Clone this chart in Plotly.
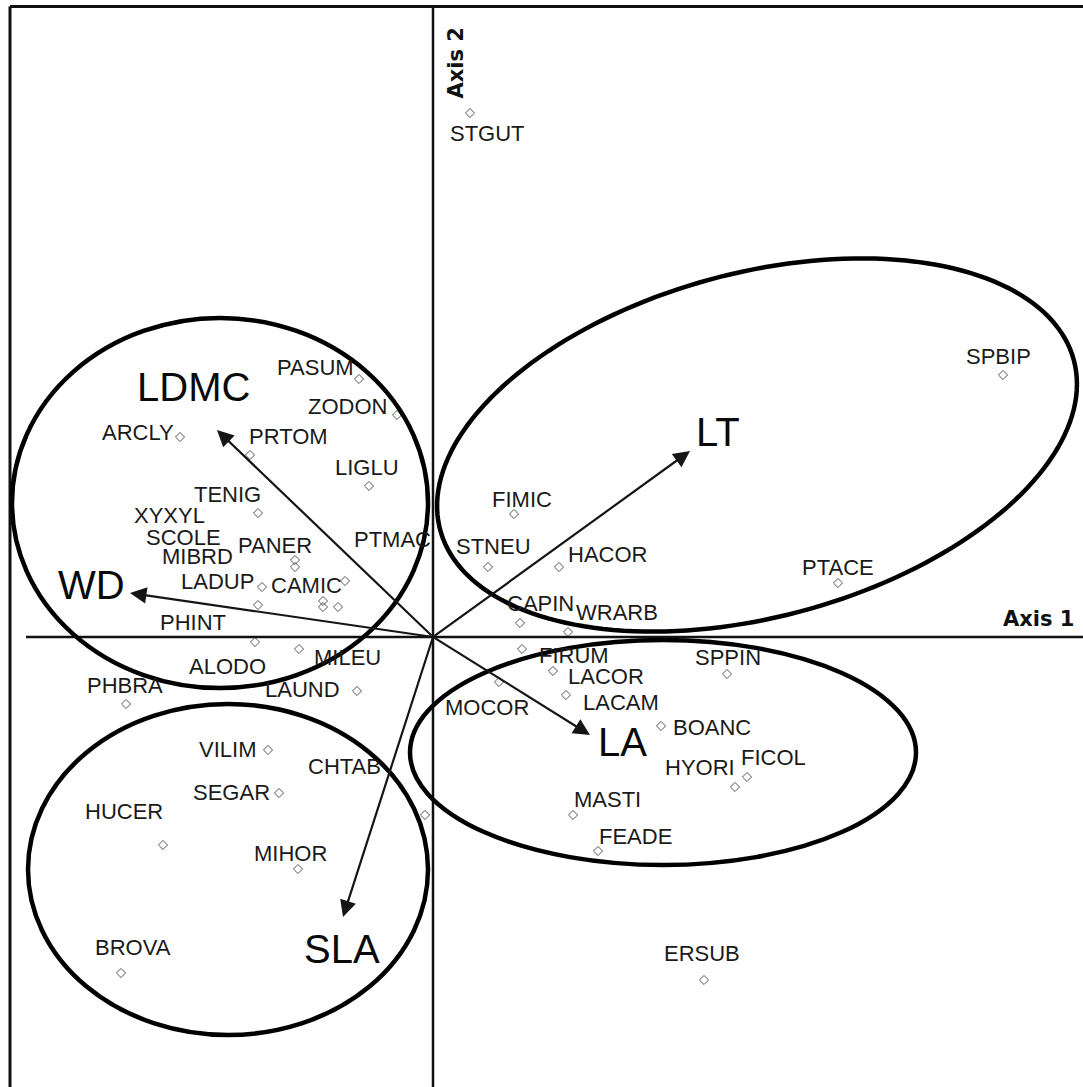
import numpy as np
import plotly.graph_objects as go

# ---------------- data (ordination scores, axis units) ----------------
species = ["STGUT", "PASUM", "ZODON", "ARCLY", "PRTOM", "LIGLU", "TENIG", "PANER",
           "MIBRD", "LADUP", "CAMIC", "SCOLE", "XYXYL", "PTMAC", "PHINT", "ALODO",
           "MILEU", "PHBRA", "LAUND", "VILIM", "CHTAB", "SEGAR", "HUCER", "MIHOR",
           "BROVA", "SPBIP", "FIMIC", "STNEU", "HACOR", "PTACE", "CAPIN", "WRARB",
           "FIRUM", "LACOR", "LACAM", "SPPIN", "MOCOR", "BOANC", "HYORI", "FICOL",
           "MASTI", "FEADE", "ERSUB"]
axis1 = [0.37, -0.74, -0.36, -2.53, -1.83, -0.64, -1.75, -1.38,
         -1.38, -1.71, -0.88, -1.10, -1.10, -0.95, -1.75, -1.78,
         -1.34, -3.07, -0.76, -1.65, -0.08, -1.54, -2.70, -1.35,
         -3.12, 5.70, 0.81, 0.55, 1.26, 4.05, 0.87, 1.35,
         0.89, 1.20, 1.33, 2.94, 0.66, 2.28, 3.02, 3.14,
         1.40, 1.65, 2.71]
axis2 = [5.24, 2.58, 2.22, 2.00, 1.82, 1.51, 1.24, 0.77,
         0.70, 0.50, 0.56, 0.36, 0.30, 0.30, 0.32, -0.05,
         -0.12, -0.67, -0.54, -1.13, -1.78, -1.56, -2.08, -2.32,
         -3.36, 2.62, 1.23, 0.70, 0.70, 0.54, 0.14, 0.05,
         -0.12, -0.34, -0.58, -0.37, -0.45, -0.89, -1.50, -1.40,
         -1.78, -2.14, -3.43]

traits = ["LDMC", "WD", "LT", "LA", "SLA"]
trait_axis1 = [-2.16, -3.03, 2.57, 1.57, -0.90]
trait_axis2 = [2.07, 0.44, 1.86, -0.98, -2.80]

axis_titles = ["Axis 1", "Axis 2"]

# ---------------- label placement (pixel offsets from the point) ----------------
label_dx = [17, -44, -50, -42, 38, -2, -31, -20,
            -98, -45, -39, -140, -154, 54, -65, -28,
            48, -1, -55, -41, -81, -48, -39, -8,
            12, -5, 8, 5, 48, 0, 20, 49,
            52, 53, 55, 1, -12, 51, -35, 26,
            34, 37, -2]
label_dy = [-20, 12, 9, 5, 19, 19, 19, 15,
            11, 6, -4, 64, 92, 68, -17, -24,
            -8, 19, 2, 1, 49, 1, 34, 16,
            26, 19, 15, 21, 13, 16, 20, 20,
            -6, -5, -7, 17, -25, -1, 20, 20,
            16, 15, 27]
trait_dx = [-24, -39, 28, 32, -1]
trait_dy = [43, 8, 19, -7, -32]

# ---------------- figure ----------------
W, H = 1083, 1087
X0, Y0 = 433, 637          # pixel position of the origin
S = 100.0                  # pixels per axis unit
xr = [-X0 / S, (W - X0) / S]
yr = [-(H - Y0) / S, Y0 / S]

fig = go.Figure()

fig.add_trace(go.Scatter(
    x=axis1, y=axis2, mode="markers",
    marker=dict(symbol="diamond-open", size=7, color="#555555", line=dict(width=1)),
    hoverinfo="text", text=species, showlegend=False))

LAB_FONT = dict(family="Liberation Sans, Arial, sans-serif", size=22, color="#1a1a1a")
for name, x, y, dx, dy in zip(species, axis1, axis2, label_dx, label_dy):
    fig.add_annotation(x=x, y=y, text=name, showarrow=False, xshift=dx, yshift=dy,
                       font=LAB_FONT, xanchor="center", yanchor="middle")

# trait arrows
for name, x, y, dx, dy in zip(traits, trait_axis1, trait_axis2, trait_dx, trait_dy):
    fig.add_annotation(x=x, y=y, ax=0, ay=0, axref="x", ayref="y", xref="x", yref="y",
                       text="", showarrow=True, arrowhead=2, arrowsize=1.5,
                       arrowwidth=2.2, arrowcolor="#151515")
    fig.add_annotation(x=x, y=y, text=name, showarrow=False, xshift=dx, yshift=dy,
                       font=dict(family="Liberation Sans, Arial, sans-serif", size=40,
                                 color="#0a0a0a"),
                       xanchor="center", yanchor="middle")

# frame (top and left) and ordination axes
LINE = dict(color="#111111", width=3)
fig.add_shape(type="line", x0=(10 - X0) / S, x1=xr[1], y0=(Y0 - 6.5) / S, y1=(Y0 - 6.5) / S,
              line=LINE, layer="above")
fig.add_shape(type="line", x0=(10 - X0) / S, x1=(10 - X0) / S, y0=yr[0], y1=(Y0 - 6.5) / S,
              line=LINE, layer="above")
AX = dict(color="#111111", width=2.5)
fig.add_shape(type="line", x0=(26 - X0) / S, x1=xr[1], y0=0, y1=0, line=AX)
fig.add_shape(type="line", x0=0, x1=0, y0=yr[0], y1=(Y0 - 7) / S, line=AX)

fig.add_annotation(x=xr[1], y=0, text="<b>" + axis_titles[0] + "</b>", showarrow=False,
                   xanchor="right", yanchor="bottom", xshift=-7, yshift=4,
                   font=dict(family="DejaVu Sans, sans-serif", size=21, color="#111"))
fig.add_annotation(x=0, y=yr[1], text="<b>" + axis_titles[1] + "</b>", showarrow=False,
                   textangle=-90, xanchor="left", yanchor="top", xshift=8, yshift=-26,
                   font=dict(family="DejaVu Sans, sans-serif", size=21, color="#111"))

# group ellipses
ELL = dict(color="black", width=4.5)
def ell_path(cx, cy, a, b, ang_deg, n=180):
    t = np.linspace(0, 2 * np.pi, n)
    th = np.deg2rad(ang_deg)
    xs = cx + a * np.cos(t) * np.cos(th) - b * np.sin(t) * np.sin(th)
    ys = cy + a * np.cos(t) * np.sin(th) + b * np.sin(t) * np.cos(th)
    return "M " + " L ".join(f"{u:.4f},{v:.4f}" for u, v in zip(xs, ys)) + " Z"

# left-top (LDMC / WD group)
fig.add_shape(type="circle", x0=(12 - X0) / S, x1=(428 - X0) / S,
              y0=(Y0 - 688) / S, y1=(Y0 - 318) / S, line=ELL)
# bottom-left (SLA group)
fig.add_shape(type="circle", x0=(28 - X0) / S, x1=(428 - X0) / S,
              y0=(Y0 - 1035) / S, y1=(Y0 - 704) / S, line=ELL)
# bottom-right (LA group)
fig.add_shape(type="circle", x0=(410 - X0) / S, x1=(916 - X0) / S,
              y0=(Y0 - 865) / S, y1=(Y0 - 640) / S, line=ELL)
# top-right (LT group), tilted
fig.add_shape(type="path", path=ell_path((757 - X0) / S, (Y0 - 445) / S, 3.28, 1.72, 15),
              line=ELL)

fig.update_xaxes(range=xr, visible=False, fixedrange=True)
fig.update_yaxes(range=yr, visible=False, fixedrange=True)
fig.update_layout(width=W, height=H, margin=dict(l=0, r=0, t=0, b=0),
                  paper_bgcolor="white", plot_bgcolor="white", showlegend=False)

fig.write_html("out.html", config={"displayModeBar": False},
               post_script="document.body.style.margin='0';document.body.style.overflow='hidden';")
